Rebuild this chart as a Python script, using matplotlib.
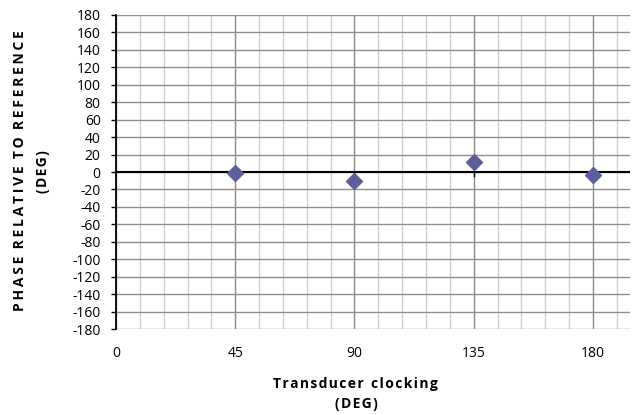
import numpy as np
import matplotlib.pyplot as plt
from matplotlib.ticker import MultipleLocator

# data
clocking = [45, 90, 135, 180]
phase = [-1, -10, 12, -4]

x_ticks = [0, 45, 90, 135, 180]
y_ticks = list(range(-180, 181, 20))

plt.rcParams['font.family'] = ['Open Sans', 'DejaVu Sans']

W, H = 638, 415
fig = plt.figure(figsize=(W / 100, H / 100), dpi=100)
ax = fig.add_axes([116 / W, 1 - 329 / H, 514 / W, 314 / H])

ax.set_xlim(0, 194)
ax.set_ylim(-180, 180)

# grid
ax.xaxis.set_minor_locator(MultipleLocator(9))
ax.grid(which='minor', axis='x', color='#cfcfcf', lw=1)
ax.grid(which='major', axis='x', color='#8a8a8a', lw=1)
ax.grid(which='major', axis='y', color='#8f8f8f', lw=1)
ax.set_axisbelow(True)

ax.set_xticks(x_ticks)
ax.set_xticklabels([str(v) for v in x_ticks])
ax.set_yticks(y_ticks)
ax.set_yticklabels([str(v) for v in y_ticks])
ax.tick_params(axis='x', which='both', length=0, pad=12, labelsize=10)
ax.tick_params(axis='y', length=3.5, width=1, color='black', labelsize=10, pad=7.5)

for s in ['top', 'right', 'bottom']:
    ax.spines[s].set_visible(False)
ax.spines['left'].set_color('black')
ax.spines['left'].set_linewidth(1.3)

# zero line with small ticks at major x positions
ax.axhline(0, color='black', lw=1.5, zorder=2)
for xt in x_ticks[1:]:
    ax.plot([xt, xt], [0, -5], color='black', lw=1, zorder=2)

ax.plot(clocking, phase, linestyle='none', marker='D', markersize=8,
        color='#5c5f9a', zorder=3, clip_on=False)


def spaced(text, gap='\u200a'):
    return '  '.join(gap.join(w) for w in text.split(' '))


fig.text(355 / W, 1 - 384 / H, spaced('Transducer clocking'), fontsize=10,
         fontweight='bold', ha='center', va='center')
fig.text(356 / W, 1 - 404 / H, spaced('(DEG)'), fontsize=10,
         fontweight='bold', ha='center', va='center')

fig.text(20 / W, 1 - 171 / H, spaced('PHASE RELATIVE TO REFERENCE', '\u2009'),
         fontsize=10, fontweight='bold', rotation=90, ha='center', va='center')
fig.text(43 / W, 1 - 172 / H, spaced('(DEG)'), fontsize=10,
         fontweight='bold', rotation=90, ha='center', va='center')

fig.savefig('out.png', dpi=100)
